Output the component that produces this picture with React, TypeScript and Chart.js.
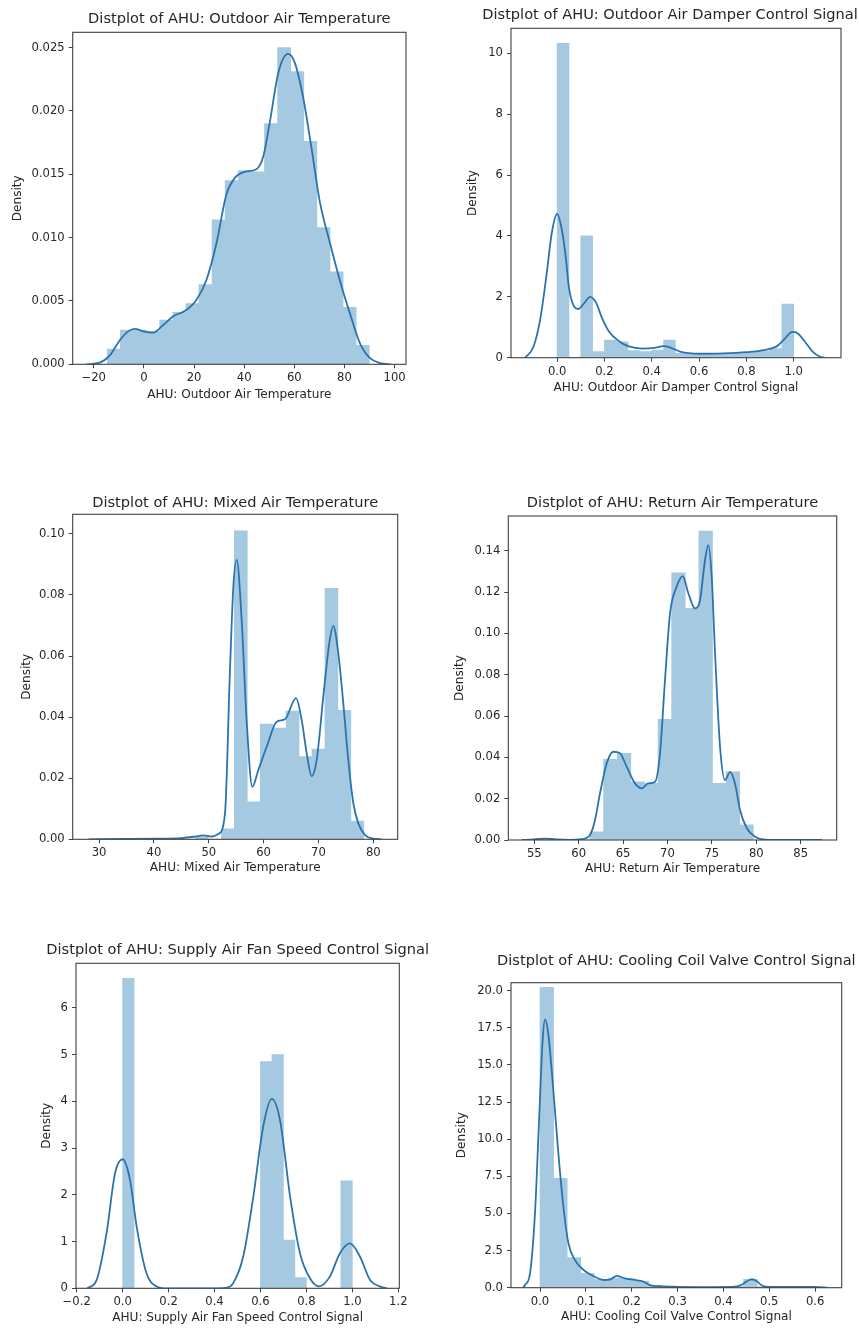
import React, { useEffect, useRef } from 'react';
import { Chart, registerables } from 'chart.js';

Chart.register(...registerables);

const FONT = 'DejaVu Sans';
const TEXT = '#262626';
const SPINE = '#404040';
const BAR = 'rgb(165,201,225)';
const LINE = '#2c73ad';

// ---------- Panel 1: Outdoor Air Temperature ----------
const p1Title = 'Distplot of AHU: Outdoor Air Temperature';
const p1XLabel = 'AHU: Outdoor Air Temperature';
const p1BinLo = -14.6;
const p1BinWidth = 5.225;
const p1Hist = [0.0012, 0.0027, 0.0027, 0.0026, 0.0035, 0.0041, 0.0048, 0.0063, 0.0114, 0.0145, 0.0153, 0.0152, 0.019, 0.025, 0.0231, 0.0176, 0.0108, 0.0073, 0.0045, 0.0015];
const p1KdeX = [-23, -17.6, -13.6, -9.6, -6.3, -3.6, -0.3, 3.7, 7.7, 11.7, 16.3, 21, 25, 29, 32.9, 36.2, 40.2, 44.9, 47.6, 50.3, 53.6, 57.5, 60.2, 63.5, 66.9, 70.2, 74.2, 78.2, 82.2, 86.1, 90.1, 94.2, 98.5];
const p1KdeY = [0, 0.00013, 0.0007, 0.0019, 0.0026, 0.0028, 0.0026, 0.0025, 0.0031, 0.0038, 0.0042, 0.0051, 0.0067, 0.0096, 0.0134, 0.0147, 0.0152, 0.0154, 0.0164, 0.0192, 0.023, 0.0245, 0.0238, 0.0211, 0.017, 0.0128, 0.0096, 0.0066, 0.004, 0.0017, 0.0005, 0.0001, 0];
const p1XTicks = [-20, 0, 20, 40, 60, 80, 100];
const p1XTickLabels = ['\u221220', '0', '20', '40', '60', '80', '100'];
const p1YTicks = [0, 0.005, 0.01, 0.015, 0.02, 0.025];
const p1YTickLabels = ['0.000', '0.005', '0.010', '0.015', '0.020', '0.025'];

// ---------- Panel 2: Outdoor Air Damper Control Signal ----------
const p2Title = 'Distplot of AHU: Outdoor Air Damper Control Signal';
const p2XLabel = 'AHU: Outdoor Air Damper Control Signal';
const p2BinLo = 0;
const p2BinWidth = 0.05;
const p2Hist = [10.33, 0, 4.0, 0.2, 0.58, 0.52, 0.23, 0.2, 0.25, 0.58, 0.14, 0.12, 0.12, 0.13, 0.14, 0.15, 0.18, 0.22, 0.3, 1.76];
const p2KdeX = [-0.135, -0.1, -0.072, -0.044, -0.023, 0, 0.02, 0.035, 0.05, 0.07, 0.09, 0.11, 0.14, 0.165, 0.19, 0.22, 0.26, 0.3, 0.36, 0.41, 0.45, 0.48, 0.52, 0.6, 0.7, 0.8, 0.88, 0.93, 0.96, 0.99, 1.0, 1.02, 1.05, 1.08, 1.11, 1.13];
const p2KdeY = [0, 0.36, 1.24, 2.77, 4.08, 4.72, 4.2, 3.4, 2.3, 1.7, 1.6, 1.75, 2.0, 1.8, 1.3, 0.85, 0.55, 0.38, 0.3, 0.32, 0.38, 0.33, 0.2, 0.13, 0.14, 0.18, 0.26, 0.38, 0.6, 0.84, 0.85, 0.78, 0.5, 0.2, 0.04, 0];
const p2XTicks = [0, 0.2, 0.4, 0.6, 0.8, 1.0];
const p2XTickLabels = ['0.0', '0.2', '0.4', '0.6', '0.8', '1.0'];
const p2YTicks = [0, 2, 4, 6, 8, 10];
const p2YTickLabels = ['0', '2', '4', '6', '8', '10'];

// ---------- Panel 3: Mixed Air Temperature ----------
const p3Title = 'Distplot of AHU: Mixed Air Temperature';
const p3XLabel = 'AHU: Mixed Air Temperature';
const p3BinLo = 31.06;
const p3BinWidth = 2.36;
const p3Hist = [0, 0, 0, 0, 0, 0, 0, 0.0008, 0, 0.0034, 0.101, 0.0123, 0.0377, 0.0364, 0.042, 0.0271, 0.0295, 0.0822, 0.0422, 0.006];
const p3KdeX = [28.1, 34, 40, 45, 47.5, 49, 50.5, 51.8, 52.96, 53.87, 54.48, 55.09, 56.0, 56.9, 57.94, 59.04, 60.56, 62.38, 63.9, 65.9, 66.94, 67.85, 68.76, 69.67, 70.88, 71.97, 72.7, 73.6, 74.52, 75.43, 76.35, 77.26, 78.5, 80, 81.5];
const p3KdeY = [0, 0.0001, 0.0002, 0.0004, 0.0009, 0.0013, 0.0009, 0.0018, 0.0085, 0.0555, 0.0827, 0.0915, 0.0718, 0.039, 0.0172, 0.0227, 0.0303, 0.0385, 0.0393, 0.0462, 0.039, 0.0282, 0.0207, 0.026, 0.0467, 0.0642, 0.0699, 0.061, 0.0446, 0.026, 0.0118, 0.0052, 0.0014, 0.0002, 0];
const p3XTicks = [30, 40, 50, 60, 70, 80];
const p3XTickLabels = ['30', '40', '50', '60', '70', '80'];
const p3YTicks = [0, 0.02, 0.04, 0.06, 0.08, 0.1];
const p3YTickLabels = ['0.00', '0.02', '0.04', '0.06', '0.08', '0.10'];

// ---------- Panel 4: Return Air Temperature ----------
const p4Title = 'Distplot of AHU: Return Air Temperature';
const p4XLabel = 'AHU: Return Air Temperature';
const p4BinLo = 55.14;
const p4BinWidth = 1.533;
const p4Hist = [0.0006, 0, 0, 0, 0.004, 0.039, 0.042, 0.0282, 0.0274, 0.0584, 0.1293, 0.1121, 0.1495, 0.0274, 0.033, 0.0073];
const p4KdeX = [53.6, 55, 56.2, 57.5, 59, 60.3, 61.27, 61.84, 62.4, 63.16, 63.9, 64.65, 65.4, 66.34, 67.1, 67.84, 68.6, 69.16, 69.72, 70.29, 71.04, 71.72, 72.35, 73.1, 73.67, 74.23, 74.6, 74.98, 75.36, 75.92, 76.48, 77.05, 77.6, 78.17, 78.93, 79.86, 81, 84, 87.4];
const p4KdeY = [0, 0.0003, 0.0007, 0.0003, 0.0001, 0.0004, 0.0024, 0.0097, 0.0226, 0.0371, 0.0427, 0.042, 0.0355, 0.0274, 0.025, 0.0274, 0.0282, 0.042, 0.0774, 0.1097, 0.1226, 0.1277, 0.1194, 0.1121, 0.1161, 0.1355, 0.1427, 0.1274, 0.0903, 0.0451, 0.029, 0.033, 0.0274, 0.0145, 0.0057, 0.0016, 0.0002, 0, 0];
const p4XTicks = [55, 60, 65, 70, 75, 80, 85];
const p4XTickLabels = ['55', '60', '65', '70', '75', '80', '85'];
const p4YTicks = [0, 0.02, 0.04, 0.06, 0.08, 0.1, 0.12, 0.14];
const p4YTickLabels = ['0.00', '0.02', '0.04', '0.06', '0.08', '0.10', '0.12', '0.14'];

// ---------- Panel 5: Supply Air Fan Speed Control Signal ----------
const p5Title = 'Distplot of AHU: Supply Air Fan Speed Control Signal';
const p5XLabel = 'AHU: Supply Air Fan Speed Control Signal';
const p5BinLo = 0;
const p5BinWidth = 0.05;
const p5Hist = [6.63, 0, 0, 0, 0, 0, 0, 0, 0, 0, 0, 0, 4.85, 5.0, 1.03, 0.23, 0, 0, 0, 2.3];
const p5KdeX = [-0.154, -0.113, -0.07, -0.033, 0.0, 0.032, 0.061, 0.104, 0.148, 0.19, 0.3, 0.42, 0.45, 0.48, 0.525, 0.569, 0.612, 0.649, 0.685, 0.729, 0.772, 0.816, 0.855, 0.902, 0.946, 0.99, 1.033, 1.077, 1.12, 1.15];
const p5KdeY = [0, 0.18, 1.18, 2.46, 2.76, 2.32, 1.32, 0.32, 0.04, 0, 0, 0, 0.01, 0.1, 0.68, 1.96, 3.46, 4.05, 3.6, 1.96, 0.75, 0.21, 0.04, 0.25, 0.75, 0.96, 0.68, 0.18, 0.04, 0];
const p5XTicks = [-0.2, 0, 0.2, 0.4, 0.6, 0.8, 1.0, 1.2];
const p5XTickLabels = ['\u22120.2', '0.0', '0.2', '0.4', '0.6', '0.8', '1.0', '1.2'];
const p5YTicks = [0, 1, 2, 3, 4, 5, 6];
const p5YTickLabels = ['0', '1', '2', '3', '4', '5', '6'];

// ---------- Panel 6: Cooling Coil Valve Control Signal ----------
const p6Title = 'Distplot of AHU: Cooling Coil Valve Control Signal';
const p6XLabel = 'AHU: Cooling Coil Valve Control Signal';
const p6BinLo = 0;
const p6BinWidth = 0.0296;
const p6Hist = [20.23, 7.37, 2.02, 0.97, 0.55, 0.65, 0.6, 0.45, 0.15, 0.08, 0.07, 0.06, 0.05, 0.04, 0.1, 0.57, 0.08, 0.05, 0.06, 0.06];
const p6KdeX = [-0.037, -0.0327, -0.0218, -0.011, -0.0015, 0.0058, 0.011, 0.018, 0.029, 0.04, 0.051, 0.062, 0.076, 0.095, 0.116, 0.138, 0.153, 0.167, 0.185, 0.207, 0.225, 0.24, 0.262, 0.3, 0.36, 0.42, 0.44, 0.452, 0.462, 0.472, 0.484, 0.5, 0.55, 0.6, 0.628];
const p6KdeY = [0, 0.18, 0.97, 5.0, 11.7, 16.7, 18.07, 17.1, 13.3, 9.05, 5.45, 2.99, 1.87, 1.19, 0.79, 0.52, 0.55, 0.79, 0.63, 0.52, 0.41, 0.18, 0.1, 0.06, 0.04, 0.05, 0.2, 0.45, 0.57, 0.45, 0.15, 0.05, 0.06, 0.05, 0];
const p6XTicks = [0, 0.1, 0.2, 0.3, 0.4, 0.5, 0.6];
const p6XTickLabels = ['0.0', '0.1', '0.2', '0.3', '0.4', '0.5', '0.6'];
const p6YTicks = [0, 2.5, 5, 7.5, 10, 12.5, 15, 17.5, 20];
const p6YTickLabels = ['0.0', '2.5', '5.0', '7.5', '10.0', '12.5', '15.0', '17.5', '20.0'];

type Box = { l: number; r: number; t: number; b: number };
type Spec = {
  title: string; xLabel: string;
  binLo: number; binWidth: number; hist: number[];
  kdeX: number[]; kdeY: number[];
  xTicks: number[]; xTickLabels: string[];
  yTicks: number[]; yTickLabels: string[];
  xMin: number; xMax: number; yMax: number;
  box: Box; titleY: number; titleDx: number; xLabelY: number; yLabelX: number; rPad: number;
};

const panels: Spec[] = [
  {
    title: p1Title, xLabel: p1XLabel, binLo: p1BinLo, binWidth: p1BinWidth, hist: p1Hist,
    kdeX: p1KdeX, kdeY: p1KdeY, xTicks: p1XTicks, xTickLabels: p1XTickLabels, yTicks: p1YTicks, yTickLabels: p1YTickLabels,
    xMin: -28.4, xMax: 104.55, yMax: 0.02621,
    box: { l: 72.7, r: 406, t: 32.3, b: 364.3 }, titleY: 19, titleDx: 0, xLabelY: 395, yLabelX: 18.3, rPad: 30,
  },
  {
    title: p2Title, xLabel: p2XLabel, binLo: p2BinLo, binWidth: p2BinWidth, hist: p2Hist,
    kdeX: p2KdeX, kdeY: p2KdeY, xTicks: p2XTicks, xTickLabels: p2XTickLabels, yTicks: p2YTicks, yTickLabels: p2YTickLabels,
    xMin: -0.195, xMax: 1.2, yMax: 10.82,
    box: { l: 511, r: 841, t: 28.3, b: 357.7 }, titleY: 15, titleDx: -6, xLabelY: 387.7, yLabelX: 472.7, rPad: 18,
  },
  {
    title: p3Title, xLabel: p3XLabel, binLo: p3BinLo, binWidth: p3BinWidth, hist: p3Hist,
    kdeX: p3KdeX, kdeY: p3KdeY, xTicks: p3XTicks, xTickLabels: p3XTickLabels, yTicks: p3YTicks, yTickLabels: p3YTickLabels,
    xMin: 25.2, xMax: 84.44, yMax: 0.1064,
    box: { l: 72.7, r: 397.7, t: 514.3, b: 839.3 }, titleY: 503.3, titleDx: 0, xLabelY: 868.3, yLabelX: 26.7, rPad: 30,
  },
  {
    title: p4Title, xLabel: p4XLabel, binLo: p4BinLo, binWidth: p4BinWidth, hist: p4Hist,
    kdeX: p4KdeX, kdeY: p4KdeY, xTicks: p4XTicks, xTickLabels: p4XTickLabels, yTicks: p4YTicks, yTickLabels: p4YTickLabels,
    xMin: 52.07, xMax: 89.06, yMax: 0.1568,
    box: { l: 508.3, r: 836.7, t: 516, b: 840 }, titleY: 503.3, titleDx: 0, xLabelY: 869, yLabelX: 460, rPad: 22,
  },
  {
    title: p5Title, xLabel: p5XLabel, binLo: p5BinLo, binWidth: p5BinWidth, hist: p5Hist,
    kdeX: p5KdeX, kdeY: p5KdeY, xTicks: p5XTicks, xTickLabels: p5XTickLabels, yTicks: p5YTicks, yTickLabels: p5YTickLabels,
    xMin: -0.203, xMax: 1.2044, yMax: 6.95,
    box: { l: 76, r: 399.3, t: 963.3, b: 1288.3 }, titleY: 950.7, titleDx: 0, xLabelY: 1317.7, yLabelX: 46.7, rPad: 30,
  },
  {
    title: p6Title, xLabel: p6XLabel, binLo: p6BinLo, binWidth: p6BinWidth, hist: p6Hist,
    kdeX: p6KdeX, kdeY: p6KdeY, xTicks: p6XTicks, xTickLabels: p6XTickLabels, yTicks: p6YTicks, yTickLabels: p6YTickLabels,
    xMin: -0.0633, xMax: 0.658, yMax: 20.54,
    box: { l: 511, r: 841.7, t: 982.7, b: 1287.7 }, titleY: 961.7, titleDx: 0, xLabelY: 1316.7, yLabelX: 462.3, rPad: 17,
  },
];

const TICK_SIZE = 11.6;
const LABEL_SIZE = 12.1;
const TITLE_SIZE = 14.6;

function Panel({ p }: { p: Spec }) {
  const ref = useRef<HTMLCanvasElement>(null);
  const cl = Math.floor(p.box.l - 72);
  const ct = Math.floor(p.titleY - 14);
  const cr = Math.ceil(p.box.r + p.rPad);
  const cb = Math.ceil(p.xLabelY + 10);
  const W = cr - cl;
  const H = cb - ct;

  useEffect(() => {
    const canvas = ref.current;
    if (!canvas) return;
    const lh = LABEL_SIZE * 1.2;
    const tickFont = { family: FONT, size: TICK_SIZE };
    const labelFont = { family: FONT, size: LABEL_SIZE, lineHeight: 1.2 };

    const framePlugin = {
      id: 'frameAndTitle',
      afterDraw(chart: any) {
        const { ctx, chartArea: a } = chart;
        ctx.save();
        ctx.strokeStyle = SPINE;
        ctx.lineWidth = 1.1;
        ctx.strokeRect(a.left, a.top, a.right - a.left, a.bottom - a.top);
        ctx.fillStyle = TEXT;
        ctx.font = `${TITLE_SIZE}px "${FONT}"`;
        ctx.textAlign = 'center';
        ctx.textBaseline = 'middle';
        ctx.fillText(p.title, (a.left + a.right) / 2 + p.titleDx, p.titleY - ct);
        ctx.restore();
      },
    };

    const chart = new Chart(canvas, {
      type: 'bar',
      data: {
        datasets: [
          {
            type: 'line',
            data: p.kdeX.map((x, i) => ({ x, y: p.kdeY[i] })),
            borderColor: LINE,
            borderWidth: 1.8,
            pointRadius: 0,
            cubicInterpolationMode: 'monotone',
            fill: false,
            order: 0,
          } as any,
          {
            type: 'bar',
            data: p.hist.map((h, i) => ({ x: p.binLo + (i + 0.5) * p.binWidth, y: h })),
            backgroundColor: BAR,
            borderWidth: 0,
            barPercentage: 1,
            categoryPercentage: 1,
            order: 1,
          } as any,
        ],
      },
      options: {
        responsive: false,
        animation: false,
        devicePixelRatio: 1,
        events: [],
        layout: { padding: { left: 0, top: p.box.t - ct, right: cr - p.box.r, bottom: 0 } },
        plugins: { legend: { display: false }, tooltip: { enabled: false }, title: { display: false } },
        scales: {
          x: {
            type: 'linear',
            position: 'bottom',
            min: p.xMin,
            max: p.xMax,
            bounds: 'data',
            offset: false,
            grid: { display: true, drawOnChartArea: false, drawTicks: true, tickLength: 4, color: SPINE, lineWidth: 1, offset: false },
            border: { display: false },
            ticks: {
              autoSkip: false, maxRotation: 0, minRotation: 0, padding: 3,
              font: tickFont, color: TEXT,
              callback: (_v: any, i: number) => p.xTickLabels[i],
            },
            afterBuildTicks: (s: any) => { s.ticks = p.xTicks.map((v) => ({ value: v })); },
            afterFit: (s: any) => { s.height = cb - p.box.b; },
            title: {
              display: true, text: p.xLabel, font: labelFont, color: TEXT,
              padding: { top: 0, bottom: H - (p.xLabelY - ct) - lh / 2 },
            },
          },
          y: {
            type: 'linear',
            position: 'left',
            min: 0,
            max: p.yMax,
            bounds: 'data',
            grid: { display: true, drawOnChartArea: false, drawTicks: true, tickLength: 4, color: SPINE, lineWidth: 1 },
            border: { display: false },
            ticks: {
              autoSkip: false, padding: 4,
              font: tickFont, color: TEXT,
              callback: (_v: any, i: number) => p.yTickLabels[i],
            },
            afterBuildTicks: (s: any) => { s.ticks = p.yTicks.map((v) => ({ value: v })); },
            afterFit: (s: any) => { s.width = p.box.l - cl; },
            title: {
              display: true, text: 'Density', font: labelFont, color: TEXT,
              padding: { top: (p.yLabelX - cl) - lh / 2, bottom: 0 },
            },
          },
        },
      } as any,
      plugins: [framePlugin],
    });
    return () => chart.destroy();
  }, []);

  return (
    <canvas
      ref={ref}
      width={W}
      height={H}
      style={{ position: 'absolute', left: cl, top: ct, width: W, height: H }}
    />
  );
}

export default function App() {
  return (
    <div style={{ position: 'relative', width: 859, height: 1329, background: '#ffffff', overflow: 'hidden' }}>
      <style>{`body{margin:0;}`}</style>
      {panels.map((p, i) => (
        <Panel key={i} p={p} />
      ))}
    </div>
  );
}
